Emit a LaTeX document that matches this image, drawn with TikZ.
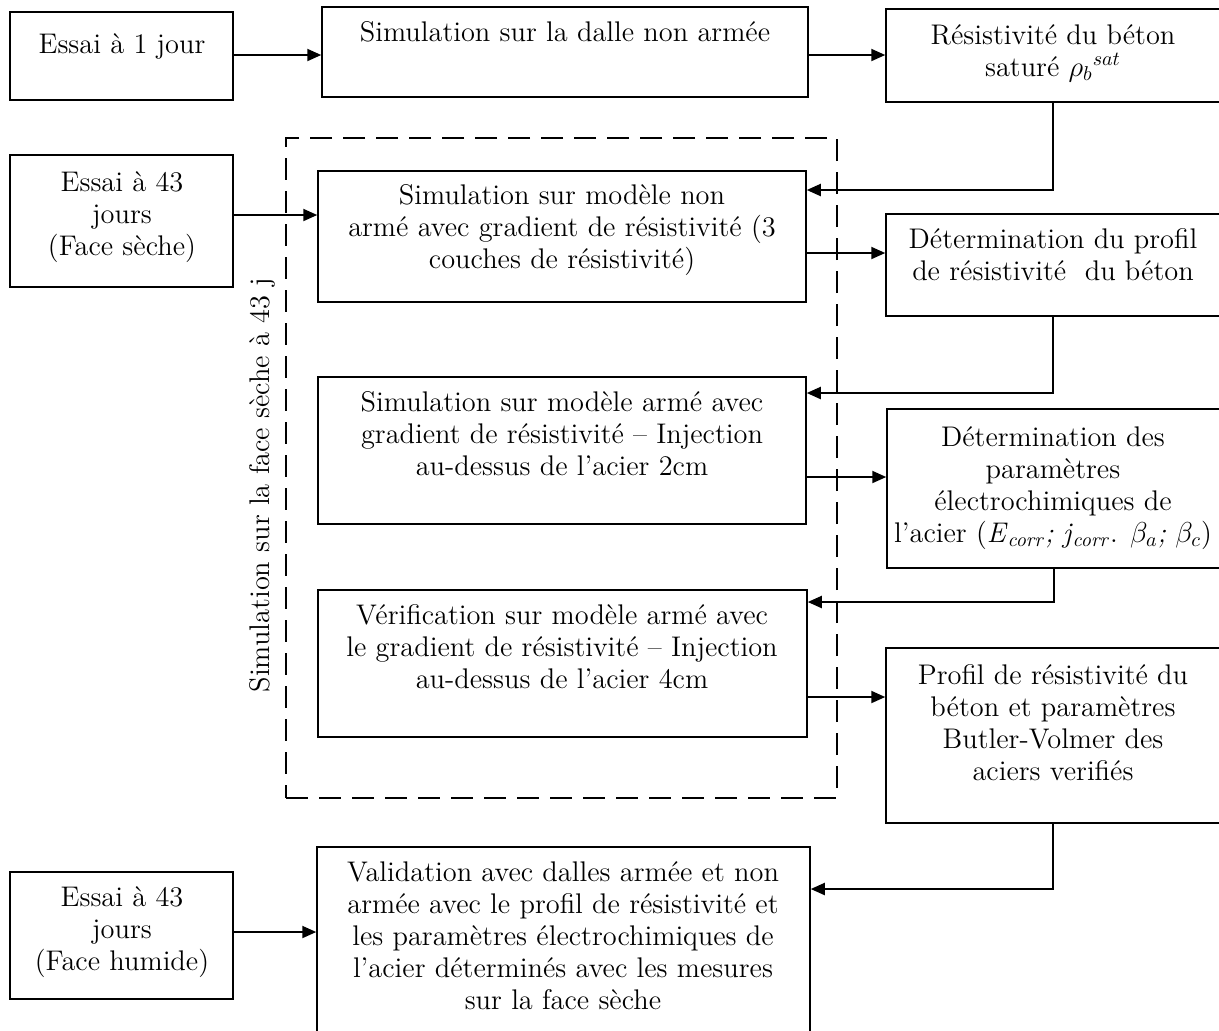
\documentclass[tikz,border=0pt]{standalone}
\usetikzlibrary{arrows.meta,fit}
\newcommand\diagfont{\fontsize{14.2}{16}\selectfont}
\newcommand\isub[2]{\textit{#1}\textsubscript{\textit{#2}}}
\begin{document}
\begin{tikzpicture}[x=0.5pt,y=-0.5pt,
  box/.style={draw=black, line width=0.75pt, inner sep=0pt},
  groupbox/.style={draw=black, line width=1.4pt, dash pattern=on 11pt off 5.5pt, inner sep=0pt},
  txt/.style={align=center, font=\diagfont, inner sep=0pt, anchor=north},
  conn/.style={line width=1pt, -{Triangle[length=7pt,width=6pt]}}]
\useasboundingbox (0,0) rectangle (1219,1030);
\fill[white] (0,0) rectangle (1219,1030);

% group (dashed)
\node[groupbox, fit={(286,138) (837,798)}] (S) {};
\node[font=\diagfont, rotate=90, inner sep=0pt] (St) at (262,485) {Simulation sur la face sèche à 43 j};

% left column
\node[box, fit={(10,12) (233,100)}] (A) {};
\node[box, fit={(10,155) (233,287)}] (D) {};
\node[box, fit={(10,872) (233,999)}] (L) {};
% middle column
\node[box, fit={(322,7) (808,97)}] (B) {};
\node[box, fit={(318,171) (806,302)}] (E) {};
\node[box, fit={(318,377) (806,524)}] (G) {};
\node[box, fit={(318,590) (807,737)}] (I) {};
\node[box, fit={(317,847) (810,1045)}] (K) {};
% right column
\node[box, fit={(886,9) (1220,102)}] (C) {};
\node[box, fit={(886,214) (1220,316)}] (F) {};
\node[box, fit={(887,409) (1220,568)}] (H) {};
\node[box, fit={(886,648) (1220,823)}] (J) {};

% texts
\node[txt] (At) at (122,33) {Essai à 1 jour};
\node[txt] (Dt) at (122,171) {Essai à 43\\jours\\(Face sèche)};
\node[txt] (Lt) at (122,886) {Essai à 43\\jours\\(Face humide)};
\node[txt] (Bt) at (565,21) {Simulation sur la dalle non armée};
\node[txt] (Et) at (562,184) {Simulation sur modèle non\\armé avec gradient de résistivité (3\\couches de résistivité)};
\node[txt] (Gt) at (562,391) {Simulation sur modèle armé avec\\gradient de résistivité – Injection\\au-dessus de l’acier 2cm};
\node[txt] (It) at (562,604) {Vérification sur modèle armé avec\\le gradient de résistivité – Injection\\au-dessus de l’acier 4cm};
\node[txt] (Kt) at (563,861) {Validation avec dalles armée et non\\armée avec le profil de résistivité et\\les paramètres électrochimiques de\\l’acier déterminés avec les mesures\\sur la face sèche};
\node[txt] (Ct) at (1053,24) {Résistivité du béton\\saturé $\rho_b{}^{sat}$};
\node[txt] (Ft) at (1053,228) {Détermination du profil\\de résistivité\ \ du béton};
\node[txt] (Ht) at (1053,426) {Détermination des\\paramètres\\électrochimiques de\\l’acier (\isub{E}{corr}\textit{;} \isub{j}{corr}. $\beta_a$\textit{;} $\beta_c$)};
\node[txt] (Jt) at (1053,664) {Profil de résistivité du\\béton et paramètres\\Butler-Volmer des\\aciers verifiés};

% connectors
\draw[conn] (A.east |- 0,55) -- (B.west |- 0,55);
\draw[conn] (B.east |- 0,55) -- (C.west |- 0,55);
\draw[conn] (D.east |- 0,215) -- (E.west |- 0,215);
\draw[conn] (C.south) |- (E.east |- 0,190);
\draw[conn] (E.east |- 0,253) -- (F.west |- 0,253);
\draw[conn] (F.south) |- (G.east |- 0,393);
\draw[conn] (G.east |- 0,477) -- (H.west |- 0,477);
\draw[conn] (H.south) |- (I.east |- 0,602);
\draw[conn] (I.east |- 0,697) -- (J.west |- 0,697);
\draw[conn] (J.south) |- (K.east |- 0,889);
\draw[conn] (L.east |- 0,932) -- (K.west |- 0,932);
\end{tikzpicture}
\end{document}
